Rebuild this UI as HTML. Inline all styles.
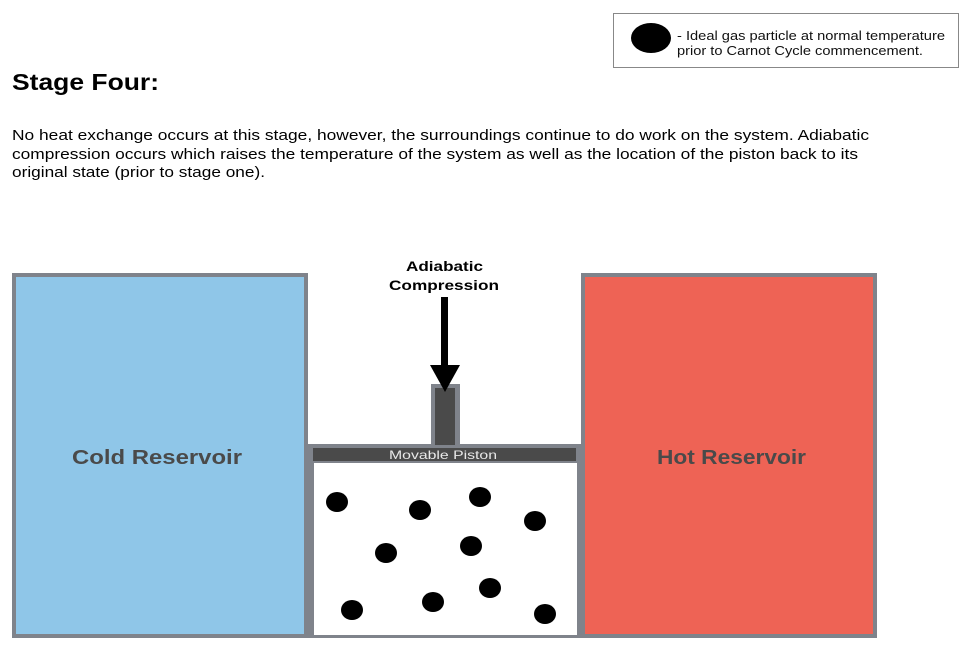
<!DOCTYPE html>
<html><head><meta charset="utf-8"><style>
body{margin:0;width:971px;height:653px;background:#fff;overflow:hidden;font-family:"Liberation Sans",Arial,sans-serif;}
</style></head><body>
<svg width="971" height="653" viewBox="0 0 971 653" xmlns="http://www.w3.org/2000/svg" style="position:absolute;left:0;top:0" font-family="Liberation Sans, Arial, sans-serif">
<rect x="613.5" y="13.5" width="345" height="54" fill="#fff" stroke="#888" stroke-width="1"/>
<ellipse cx="651" cy="38" rx="20" ry="15" fill="#000"/>
<text x="677" y="40" font-size="12.5" fill="#111" textLength="268" lengthAdjust="spacingAndGlyphs">- Ideal gas particle at normal temperature</text>
<text x="677" y="55" font-size="12.5" fill="#111" textLength="246" lengthAdjust="spacingAndGlyphs">prior to Carnot Cycle commencement.</text>
<text x="12" y="90" font-size="23" font-weight="bold" fill="#000" textLength="147" lengthAdjust="spacingAndGlyphs">Stage Four:</text>
<text x="12" y="140" font-size="15" fill="#000" textLength="857" lengthAdjust="spacingAndGlyphs">No heat exchange occurs at this stage, however, the surroundings continue to do work on the system. Adiabatic</text>
<text x="12" y="159" font-size="15" fill="#000" textLength="846" lengthAdjust="spacingAndGlyphs">compression occurs which raises the temperature of the system as well as the location of the piston back to its</text>
<text x="12" y="177" font-size="15" fill="#000" textLength="253" lengthAdjust="spacingAndGlyphs">original state (prior to stage one).</text>
<rect x="14" y="275" width="292" height="361" fill="#8fc6e8" stroke="#7f838b" stroke-width="4"/>
<text x="72" y="464" font-size="20" font-weight="bold" fill="#4a4a4a" textLength="170" lengthAdjust="spacingAndGlyphs">Cold Reservoir</text>
<rect x="583" y="275" width="292" height="361" fill="#ee6355" stroke="#7f838b" stroke-width="4"/>
<text x="657" y="464" font-size="20" font-weight="bold" fill="#4a4a4a" textLength="149" lengthAdjust="spacingAndGlyphs">Hot Reservoir</text>
<rect x="306" y="444" width="277" height="194" fill="#7f838b"/>
<rect x="312.5" y="461.5" width="266" height="175" fill="#fff" stroke="#7f838b" stroke-width="3"/>
<rect x="313" y="448" width="263" height="13" fill="#4a4a4a"/>
<text x="389" y="459" font-size="12" fill="#e8e8e8" textLength="108" lengthAdjust="spacingAndGlyphs">Movable Piston</text>
<rect x="431" y="384" width="29" height="61" fill="#7f838b"/>
<rect x="435" y="388" width="20" height="57" fill="#4a4a4a"/>
<rect x="441" y="297" width="7" height="70" fill="#000"/>
<polygon points="430,365 460,365 445,392" fill="#000"/>
<text x="406" y="271" font-size="14" font-weight="bold" fill="#000" textLength="77" lengthAdjust="spacingAndGlyphs">Adiabatic</text>
<text x="389" y="290" font-size="14" font-weight="bold" fill="#000" textLength="110" lengthAdjust="spacingAndGlyphs">Compression</text>
<g fill="#000">
<ellipse cx="337" cy="502" rx="11" ry="10"/><ellipse cx="420" cy="510" rx="11" ry="10"/>
<ellipse cx="480" cy="497" rx="11" ry="10"/><ellipse cx="535" cy="521" rx="11" ry="10"/>
<ellipse cx="386" cy="553" rx="11" ry="10"/><ellipse cx="471" cy="546" rx="11" ry="10"/>
<ellipse cx="352" cy="610" rx="11" ry="10"/><ellipse cx="433" cy="602" rx="11" ry="10"/>
<ellipse cx="490" cy="588" rx="11" ry="10"/><ellipse cx="545" cy="614" rx="11" ry="10"/>
</g>
</svg>
</body></html>
